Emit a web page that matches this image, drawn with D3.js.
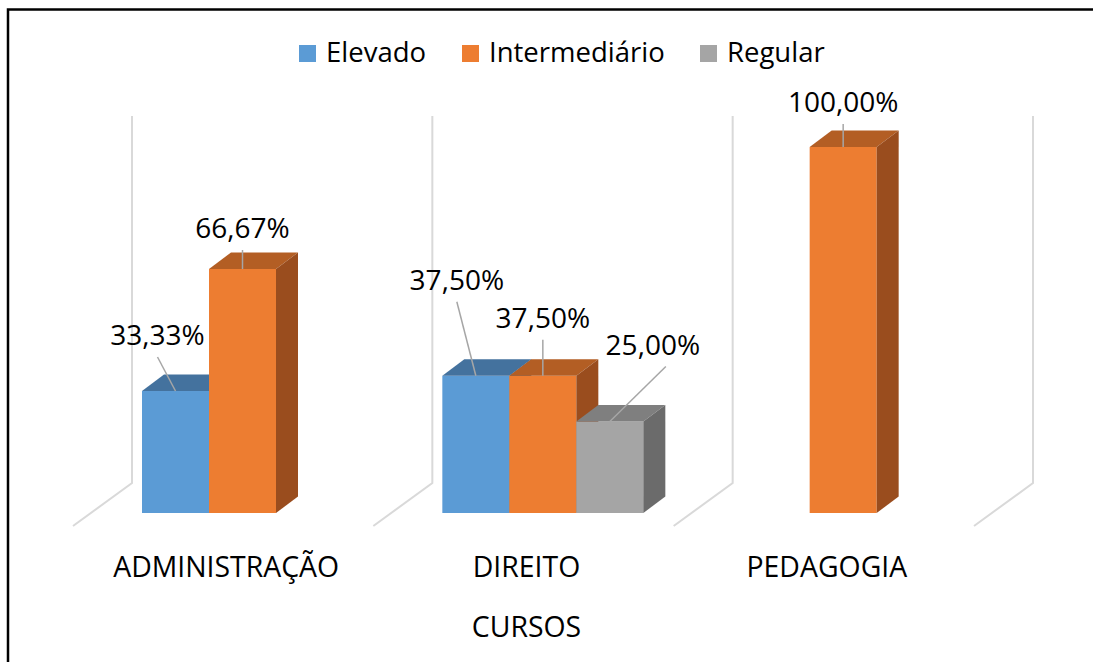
<!DOCTYPE html>
<html lang="pt">
<head>
  <meta charset="UTF-8">
  <title>Cursos</title>
  <script src="https://d3js.org/d3.v7.min.js"></script>
  <style>
    body { margin: 0; background: #fff; }
    text {
      font-family: "Open Sans", sans-serif;
      font-size: 27.5px;
      fill: #000;
    }
    .cat { font-size: 28.4px; }
    .val { font-size: 28px; }
    .grid { stroke: #d9d9d9; stroke-width: 2px; fill: none; }
    .leader { stroke: #a6a6a6; stroke-width: 1.5px; }
  </style>
</head>
<body>
  <svg width="1093" height="662"></svg>
  <script>
    // data
    const categories = ["ADMINISTRAÇÃO", "DIREITO", "PEDAGOGIA"];
    const series = ["Elevado", "Intermediário", "Regular"];
    const elevado = [0.3333, 0.375, 0];
    const intermediario = [0.6667, 0.375, 1.0];
    const regular = [0, 0.25, 0];
    const axisTitle = "CURSOS";

    const values = [elevado, intermediario, regular];
    const colors = ["#5b9bd5", "#ed7d31", "#a5a5a5"];
    const topColors = ["#44729e", "#b35e24", "#7f7f7f"];
    const sideColors = ["#3f6b94", "#9a4d1e", "#6b6b6b"];

    // manual label placement (offset of label from bar top centre), like in the original
    const labelNudge = {
      "0-0": [-18, -46], "1-0": [0, -31],
      "0-1": [-19, -86], "1-1": [0, -48], "2-1": [43, -67, 13],
      "1-2": [0, -35]
    };

    const svg = d3.select("svg");
    const fmt = d3.formatLocale({decimal: ",", thousands: ".", grouping: [3], currency: ["R$", ""]}).format(".2%");

    // border (chart area frame, cut at right/bottom)
    svg.append("path")
      .attr("d", "M8,662 L8,9.5 L1093,9.5")
      .attr("fill", "none").attr("stroke", "#000").attr("stroke-width", 2.5);

    // floor front edge, depth of the back wall
    const floorFront = 526, depthX = 59, depthY = -43;
    const wallTop = 116;

    const x = d3.scaleBand().domain(categories).range([73, 974]);
    const xs = d3.scaleBand().domain(series).range([0, 201]);
    const y = d3.scaleLinear().domain([0, 1]).range([513, 147]);

    // bar depth
    const bdx = 22, bdy = -16.5;
    const groupOffset = 69;

    // walls / category separators
    const bounds = categories.map(c => x(c)).concat([x.range()[1]]);
    svg.append("g").selectAll("path")
      .data(bounds)
      .join("path")
        .attr("class", "grid")
        .attr("d", b => `M${b},${floorFront} L${b + depthX},${floorFront + depthY} L${b + depthX},${wallTop}`);

    // bars
    const bars = [];
    categories.forEach((c, ci) => {
      series.forEach((s, si) => {
        const v = values[si][ci];
        if (v > 0) bars.push({c, s, ci, si, v});
      });
    });

    const g = svg.append("g");
    bars.forEach(d => {
      const x0 = x(d.c) + groupOffset + xs(d.s);
      const x1 = x0 + xs.bandwidth();
      const yt = y(d.v), yb = y(0);
      const bar = g.append("g");
      bar.append("rect")
        .attr("x", x0).attr("y", yt)
        .attr("width", x1 - x0).attr("height", yb - yt)
        .attr("fill", colors[d.si]);
      bar.append("path")
        .attr("d", `M${x0},${yt} L${x0 + bdx},${yt + bdy} L${x1 + bdx},${yt + bdy} L${x1},${yt} Z`)
        .attr("fill", topColors[d.si]);
      bar.append("path")
        .attr("d", `M${x1},${yt} L${x1 + bdx},${yt + bdy} L${x1 + bdx},${yb + bdy} L${x1},${yb} Z`)
        .attr("fill", sideColors[d.si]);
      d.cx = (x0 + x1) / 2;
      d.ty = yt;
    });

    // data labels with leader lines
    const lbl = svg.append("g");
    bars.forEach(d => {
      const n = labelNudge[d.si + "-" + d.ci] || [0, -35];
      const lx = d.cx + n[0], ly = d.ty + n[1];
      lbl.append("line")
        .attr("class", "leader")
        .attr("x1", lx + (n[2] || 0)).attr("y1", ly + 12)
        .attr("x2", d.cx).attr("y2", d.ty);
      lbl.append("text")
        .attr("class", "val")
        .attr("x", lx).attr("y", ly)
        .attr("text-anchor", "middle")
        .text(fmt(d.v));
    });

    // category labels
    svg.append("g").selectAll("text")
      .data(categories)
      .join("text")
        .attr("class", "cat")
        .attr("x", c => x(c) + x.bandwidth() / 2 + 3)
        .attr("y", 577)
        .attr("text-anchor", "middle")
        .text(c => c);

    svg.append("text")
      .attr("class", "cat")
      .attr("x", x(categories[1]) + x.bandwidth() / 2 + 3)
      .attr("y", 637)
      .attr("text-anchor", "middle")
      .text(axisTitle);

    // legend
    const legendX = [299, 462, 700];
    const leg = svg.append("g");
    series.forEach((s, i) => {
      leg.append("rect")
        .attr("x", legendX[i]).attr("y", 45)
        .attr("width", 17).attr("height", 17)
        .attr("fill", colors[i]);
      leg.append("text")
        .attr("x", legendX[i] + 27).attr("y", 62)
        .text(s);
    });
  </script>
</body>
</html>
